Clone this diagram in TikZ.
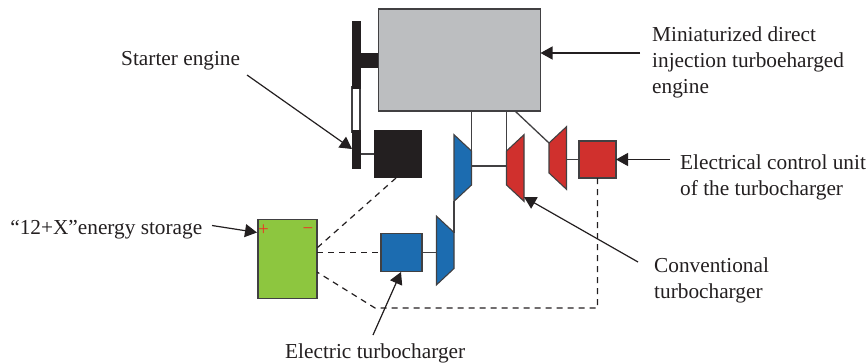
\documentclass[tikz,border=0pt]{standalone}
\usepackage{xcolor}
\usepackage{fontspec}
\setmainfont{Liberation Serif}
\usepackage{tikz}
\usetikzlibrary{shapes.geometric, arrows.meta, positioning, calc}
\definecolor{mydark}{RGB}{35,31,32}
\definecolor{myline}{RGB}{65,64,66}
\definecolor{mygrey}{RGB}{188,190,192}
\definecolor{myblue}{RGB}{28,108,176}
\definecolor{myred}{RGB}{208,48,45}
\definecolor{mygreen}{RGB}{141,198,63}
\definecolor{signred}{RGB}{238,50,36}
\tikzset{
  box/.style={rectangle, draw=myline, line width=1.1pt, inner sep=0pt, outer sep=0pt},
  blackbar/.style={rectangle, fill=mydark, inner sep=0pt, outer sep=0pt},
  turbo/.style={trapezium, trapezium angle=47,
    draw=myline, line width=1.1pt, inner sep=0pt, outer sep=0pt,
    text width=#1, text height=17.5pt, text depth=0pt},
  shaft/.style={line width=1.3pt, color=myline},
  wire/.style={line width=1.2pt, color=mydark, dashed, dash pattern=on 6pt off 5pt},
  pointer/.style={-{Triangle[length=12pt,width=13pt]}, line width=1.2pt, color=mydark},
  caption/.style={font=\fontsize{21.3}{26}\selectfont, text=mydark, align=left, inner sep=0pt},
  sign/.style={text=signred, font=\fontsize{19}{19}\selectfont, inner sep=0pt}
}
\begin{document}
\begin{tikzpicture}[x=1pt, y=-1pt]
  \useasboundingbox (0,0) rectangle (866,362);

  % Engine and flywheel
  \node[box, fill=mygrey, minimum width=162pt, minimum height=102pt] (engine) at (459.5,60) {};
  \node[box, fill=white, minimum width=8pt, minimum height=45pt] (wheelmid) at (356,109.5) {};
  \node[blackbar, minimum width=9pt, minimum height=68pt] (wheeltop) at (356,55) {};
  \node[blackbar, minimum width=9pt, minimum height=39pt] (wheelbot) at (356,149.5) {};
  \node[blackbar, minimum width=18pt, minimum height=15pt] (stub) at (369,60.5) {};

  % Starter
  \node[blackbar, minimum width=48pt, minimum height=48pt] (starter) at (398,154) {};
  \draw[shaft] (wheelbot.east |- starter.west) -- (starter.west);

  % Turbochargers
  \node[turbo=34pt, fill=myblue, rotate=-90] (comptop) at (462.75,168) {};
  \node[turbo=34pt, fill=myred, rotate=90] (turbtop) at (515.25,168) {};
  \node[turbo=30pt, fill=myred, rotate=90] (turbright) at (557.75,158) {};
  \node[turbo=36pt, fill=myblue, rotate=-90] (complow) at (445.25,250.5) {};

  % Boxes
  \node[box, fill=myred, minimum width=37pt, minimum height=37pt] (ecu) at (597.5,159.5) {};
  \node[box, fill=myblue, minimum width=41pt, minimum height=38pt] (motor) at (401.5,252.5) {};
  \node[box, fill=mygreen, minimum width=59pt, minimum height=79pt] (battery) at (287.5,258.75) {};
  \node[sign] (plus) at (263.5,230.5) {+};
  \node[sign] (minus) at (308,231.5) {\textminus};

  % Shafts
  \coordinate (exhaust) at (515,111);
  \coordinate (shaftmid) at (489,166);
  \draw[shaft] (comptop.top left corner |- engine.south) -- (comptop.top left corner);
  \draw[shaft] (turbtop.top right corner |- engine.south) -- (turbtop.top right corner);
  \draw[shaft] (comptop.top side |- shaftmid) -- (turbtop.top side |- shaftmid);
  \draw[shaft] (exhaust) -- (turbright.top right corner);
  \draw[shaft] (turbright.bottom side |- ecu.west) -- (ecu.west);
  \draw[shaft] (motor.east) -- (motor.east -| complow.bottom side);
  \draw[shaft] (comptop.bottom right corner) -- (complow.top left corner);

  % Dashed wires
  \coordinate (wireone) at (317,248);
  \coordinate (wiretwo) at (317,272);
  \coordinate (wirebend) at (375,308);
  \coordinate (starterfoot) at (396,178);
  \draw[wire] (starterfoot) -- (wireone);
  \draw[wire] (battery.east |- motor.west) -- (motor.west);
  \draw[wire] (ecu.south) -- (ecu.south |- wirebend) -- (wirebend) -- (wiretwo);

  % Labels
  \node[caption, anchor=west] (enginelabel) at (652,62.5) {Miniaturized direct\\injection turboeharged\\engine};
  \node[caption, anchor=west] (starterlabel) at (121,60.5) {Starter engine};
  \node[caption, anchor=east] (storagelabel) at (202.5,229.5) {“12+X”energy storage};
  \node[caption, anchor=west] (eculabel) at (680,177) {Electrical control unit\\of the turbocharger};
  \node[caption, anchor=west] (convlabel) at (654,280.5) {Conventional\\turbocharger};
  \node[caption, anchor=west] (motorlabel) at (285,353) {Electric turbocharger};

  % Pointers
  \coordinate (enginetail) at (640,53);
  \coordinate (startertail) at (247,75);
  \coordinate (startertip) at (352,149);
  \coordinate (storagetail) at (212,225.5);
  \coordinate (storagetip) at (257,232.5);
  \coordinate (ecutail) at (670,159.5);
  \coordinate (convtail) at (638,262);
  \coordinate (convtip) at (524,197);
  \coordinate (motortail) at (373,335);
  \coordinate (motortip) at (401,272);
  \draw[pointer] (enginetail) -- (engine.east |- enginetail);
  \draw[pointer] (startertail) -- (startertip);
  \draw[pointer] (storagetail) -- (storagetip);
  \draw[pointer] (ecutail) -- (ecu.east);
  \draw[pointer] (convtail) -- (convtip);
  \draw[pointer] (motortail) -- (motortip);
\end{tikzpicture}
\end{document}
